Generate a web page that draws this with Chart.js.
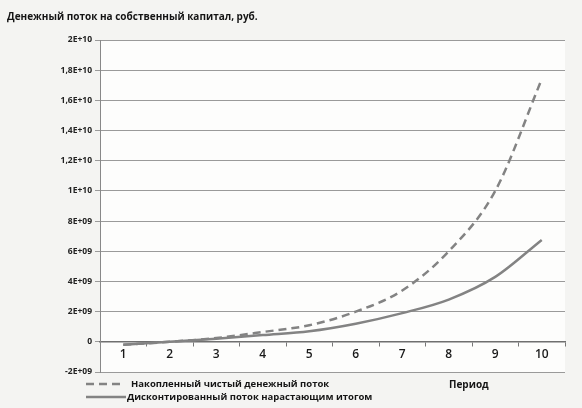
<!DOCTYPE html>
<html>
<head>
<meta charset="utf-8">
<script src="https://cdn.jsdelivr.net/npm/chart.js@4/dist/chart.umd.min.js"></script>
<style>
    html, body { margin: 0; padding: 0; background: #f4f4f2; }
    #wrap { width: 582px; height: 408px; position: relative; }
</style>
</head>
<body>
<div id="wrap"><canvas id="chart" width="582" height="408"></canvas></div>
<script>
// Periods on the category axis
const periods = ['1', '2', '3', '4', '5', '6', '7', '8', '9', '10'];

// Accumulated net cash flow (dashed)
const accumulatedFlow = [-0.2e9, 0.0, 0.25e9, 0.65e9, 1.1e9, 2.0e9, 3.4e9, 6.0e9, 1.0e10, 1.74e10];

// Discounted cumulative flow (solid)
const discountedFlow = [-0.2e9, 0.0, 0.2e9, 0.45e9, 0.7e9, 1.2e9, 1.9e9, 2.8e9, 4.3e9, 6.75e9];

const seriesNames = ['Накопленный чистый денежный поток', 'Дисконтированный поток нарастающим итогом'];
const chartTitle = 'Денежный поток на собственный капитал, руб.';
const axisTitle = 'Период';

const LINE_COLOR = '#838383';
const FONT = '"Open Sans", "DejaVu Sans", sans-serif';

// Excel-like exponent label: 1,8E+10 / 8E+09
function formatTick(v) {
    if (v === 0) return '0';
    const exp = Math.floor(Math.log10(Math.abs(v)) + 1e-9);
    const mant = Math.round(v / Math.pow(10, exp) * 10) / 10;
    const sign = exp < 0 ? '-' : '+';
    const e = String(Math.abs(exp)).padStart(2, '0');
    return String(mant).replace('.', ',') + 'E' + sign + e;
}

// Title, legend and axis caption drawn by hand
const decorations = {
    id: 'decorations',
    beforeDraw(chart) {
        const { ctx, chartArea } = chart;
        ctx.save();
        ctx.fillStyle = '#fdfdfc';
        ctx.fillRect(chartArea.left, chartArea.top, chartArea.right - chartArea.left, chartArea.bottom - chartArea.top);
        ctx.restore();
    },
    afterDraw(chart) {
        const { ctx } = chart;
        ctx.save();
        ctx.fillStyle = '#151515';
        ctx.textBaseline = 'middle';

        ctx.font = 'bold 10px ' + FONT;
        ctx.fillText(chartTitle, 7, 17);

        // legend rows
        ctx.strokeStyle = LINE_COLOR;
        ctx.lineWidth = 2.5;
        ctx.setLineDash([8, 5]);
        ctx.beginPath();
        ctx.moveTo(86, 384);
        ctx.lineTo(124, 384);
        ctx.stroke();
        ctx.setLineDash([]);
        ctx.beginPath();
        ctx.moveTo(86, 397);
        ctx.lineTo(126, 397);
        ctx.stroke();

        ctx.font = 'bold 9.5px ' + FONT;
        ctx.fillText(seriesNames[0], 131, 384);
        ctx.fillText(seriesNames[1], 127, 397);

        ctx.font = 'bold 10px ' + FONT;
        ctx.fillText(axisTitle, 449, 385);
        ctx.restore();
    }
};

new Chart(document.getElementById('chart'), {
    type: 'line',
    data: {
        labels: periods,
        datasets: [
            {
                label: seriesNames[0],
                data: accumulatedFlow,
                borderColor: LINE_COLOR,
                borderWidth: 2.5,
                borderDash: [8, 5],
                pointRadius: 0,
                cubicInterpolationMode: 'monotone',
                fill: false,
            },
            {
                label: seriesNames[1],
                data: discountedFlow,
                borderColor: LINE_COLOR,
                borderWidth: 2.5,
                pointRadius: 0,
                cubicInterpolationMode: 'monotone',
                fill: false,
            },
        ],
    },
    options: {
        responsive: false,
        animation: false,
        layout: { padding: { top: 40, bottom: 36, left: 0, right: 17 } },
        plugins: {
            legend: { display: false },
            tooltip: { enabled: false },
        },
        scales: {
            x: {
                position: { y: 0 },
                offset: true,
                grid: {
                    offset: true,
                    drawOnChartArea: false,
                    drawTicks: true,
                    tickLength: 4,
                    color: '#777',
                },
                border: { display: true, color: '#6f6f6f', width: 1.5 },
                ticks: {
                    color: '#1a1a1a',
                    padding: 2,
                    font: { family: FONT, size: 12, weight: '600' },
                    maxRotation: 0,
                },
            },
            y: {
                min: -2e9,
                max: 2e10,
                afterFit(scale) { scale.width = 100; },
                grid: {
                    color: '#9a9a9a',
                    lineWidth: 1,
                    drawTicks: true,
                    tickLength: 5,
                },
                border: { display: true, color: '#888', width: 1 },
                ticks: {
                    stepSize: 2e9,
                    padding: 3,
                    color: '#222',
                    font: { family: FONT, size: 8.5, weight: 'bold' },
                    callback: (v) => formatTick(v),
                },
            },
        },
    },
    plugins: [decorations],
});
</script>
</body>
</html>
